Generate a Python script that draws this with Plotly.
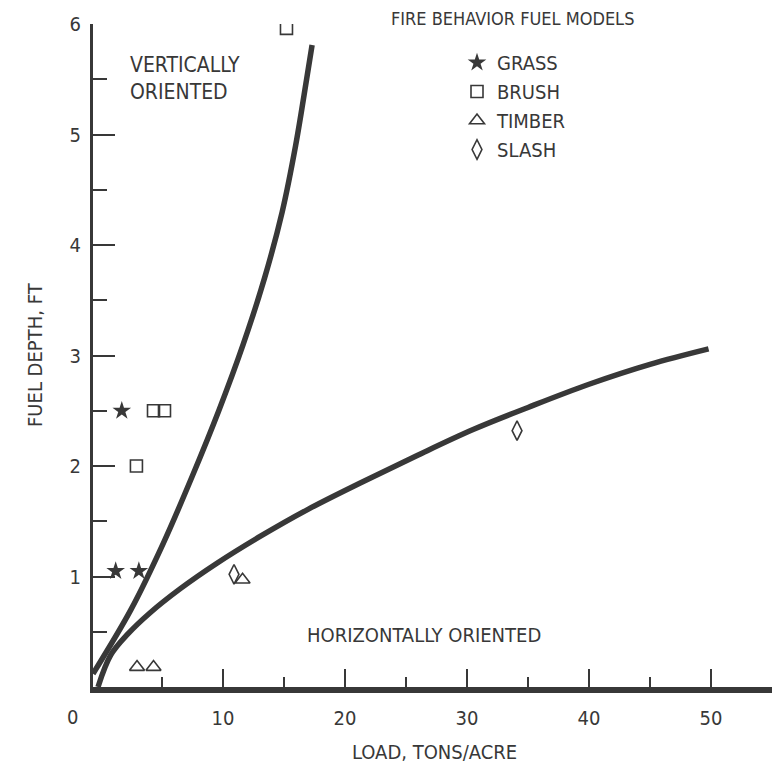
import plotly.graph_objects as go

# ---- data ----
grass_x = [1.7, 1.2, 3.1]
grass_y = [2.5, 1.05, 1.05]
brush_x = [15.2, 4.3, 5.2, 2.9]
brush_y = [5.96, 2.5, 2.5, 2.0]
timber_x = [2.95, 4.3, 11.6]
timber_y = [0.18, 0.18, 0.97]
slash_x = [10.9, 34.1]
slash_y = [1.02, 2.32]

vert_x = [-0.66, 2.45, 5.1, 7.45, 9.65, 11.65, 13.4, 14.85, 15.95, 16.85, 17.3]
vert_y = [0.12, 0.7, 1.3, 1.9, 2.5, 3.1, 3.7, 4.3, 4.9, 5.5, 5.81]
horiz_x = [-0.25, 0.8, 2.2, 4.0, 6.5, 9.5, 13.0, 17.0, 21.5, 26.0, 30.5, 35.0, 40.0, 45.0, 49.8]
horiz_y = [0.0, 0.29, 0.48, 0.67, 0.89, 1.12, 1.36, 1.61, 1.86, 2.1, 2.33, 2.53, 2.74, 2.92, 3.06]

x_ticks = [10, 20, 30, 40, 50]
x_tick_text = ["10", "20", "30", "40", "50"]
y_ticks = [1, 2, 3, 4, 5, 6]
y_tick_text = ["1", "2", "3", "4", "5", "6"]

FONT = "'Liberation Sans Narrow', 'DejaVu Sans Condensed', 'Arial Narrow', sans-serif"
INK = "#383838"

fig = go.Figure()

fig.add_trace(go.Scatter(x=vert_x, y=vert_y, mode="lines",
                         line=dict(color=INK, width=5.5, shape="spline", smoothing=1.0),
                         showlegend=False, hoverinfo="skip"))
fig.add_trace(go.Scatter(x=horiz_x, y=horiz_y, mode="lines",
                         line=dict(color=INK, width=5.5, shape="spline", smoothing=1.0),
                         showlegend=False, hoverinfo="skip"))

mline = dict(color=INK, width=1.6)
fig.add_trace(go.Scatter(x=grass_x, y=grass_y, mode="markers", name="GRASS",
                         marker=dict(symbol="star", size=14, color=INK, line=dict(width=0))))
fig.add_trace(go.Scatter(x=brush_x, y=brush_y, mode="markers", name="BRUSH",
                         marker=dict(symbol="square-open", size=12, color=INK, line=mline)))
fig.add_trace(go.Scatter(x=timber_x, y=timber_y, mode="markers", name="TIMBER",
                         marker=dict(symbol="triangle-up-open", size=13, color=INK, line=mline)))
fig.add_trace(go.Scatter(x=slash_x, y=slash_y, mode="markers", name="SLASH",
                         marker=dict(symbol="diamond-tall-open", size=14, color=INK, line=mline)))

L, R, T, B = 93, 0, 24, 79
W, H = 772, 766
PW, PH = W - L - R, H - T - B

def px(xp):
    return (xp - L) / PW

def py(yp):
    return (H - B - yp) / PH

ann = [
    dict(text="VERTICALLY<br>ORIENTED", x=px(128), y=py(78), xanchor="left", yanchor="middle", align="left", size=21),
    dict(text="HORIZONTALLY ORIENTED", x=px(424), y=py(635), xanchor="center", yanchor="middle", align="center", size=20),
    dict(text="FIRE BEHAVIOR FUEL MODELS", x=px(512), y=py(18), xanchor="center", yanchor="middle", align="center", size=18),
    dict(text="FUEL DEPTH, FT", x=px(35), y=py(355), xanchor="center", yanchor="middle", align="center", size=20, angle=-90),
    dict(text="LOAD, TONS/ACRE", x=px(434), y=py(752), xanchor="center", yanchor="middle", align="center", size=20),
    dict(text="0", x=px(72), y=py(717), xanchor="center", yanchor="middle", align="center", size=20),
]
for a in ann:
    fig.add_annotation(text=a["text"], x=a["x"], y=a["y"], xref="paper", yref="paper",
                       xanchor=a["xanchor"], yanchor=a["yanchor"], align=a["align"],
                       textangle=a.get("angle", 0), showarrow=False,
                       font=dict(family=FONT, size=a["size"], color=INK))

fig.update_layout(
    width=W, height=H,
    margin=dict(l=L, r=R, t=T, b=B, autoexpand=False),
    paper_bgcolor="white", plot_bgcolor="white",
    font=dict(family=FONT, size=20, color=INK),
    showlegend=True,
    legend=dict(x=px(457), y=py(43), xanchor="left", yanchor="top",
                bgcolor="rgba(0,0,0,0)", borderwidth=0,
                font=dict(family=FONT, size=20, color=INK), itemclick=False),
    xaxis=dict(range=[-0.66, 55.0], showgrid=False, zeroline=False,
               showline=True, linecolor=INK, linewidth=6,
               ticks="inside", ticklen=18, tickwidth=2, tickcolor=INK,
               tickvals=x_ticks, ticktext=x_tick_text,
               minor=dict(tick0=5, dtick=10, ticks="inside", ticklen=10, tickwidth=2, tickcolor=INK),
               ticklabelstandoff=8, tickfont=dict(family=FONT, size=20, color=INK)),
    yaxis=dict(range=[0, 6], showgrid=False, zeroline=False,
               showline=True, linecolor=INK, linewidth=3,
               ticks="inside", ticklen=22, tickwidth=2, tickcolor=INK,
               tickvals=y_ticks, ticktext=y_tick_text,
               minor=dict(tick0=0.5, dtick=1, ticks="inside", ticklen=14, tickwidth=2, tickcolor=INK),
               ticklabelstandoff=5, tickfont=dict(family=FONT, size=20, color=INK)),
)

fig.write_html("out.html", config={"displayModeBar": False},
               post_script="document.body.style.margin='0px';document.body.style.overflow='hidden';")
